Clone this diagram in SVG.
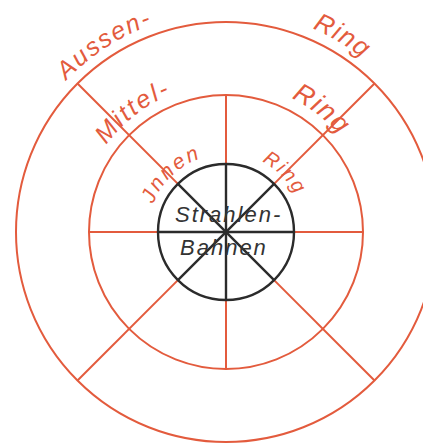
<svg xmlns="http://www.w3.org/2000/svg" width="423" height="446" viewBox="0 0 423 446">
  <style>
    .red { fill: none; stroke: #e35b3d; stroke-width: 2; }
    .blk { fill: none; stroke: #2b2b2b; stroke-width: 2.4; }
    .rt { fill: #e35b3d; font-family: "Liberation Sans", Arial, sans-serif; font-style: italic; }
    .bt { fill: #333333; font-family: "Liberation Sans", Arial, sans-serif; font-style: italic; font-size: 22px; letter-spacing: 2px; }
  </style>
  <defs>
    <path id="pAussen" d="M 66.4,80.6 A 220 220 0 0 1 206.8,12.8"/>
    <path id="pRingO" d="M 312.3,28.6 A 221 221 0 0 1 417.4,121.5"/>
    <path id="pMittel" d="M 106.3,145.0 A 148 148 0 0 1 200.3,86.2"/>
    <path id="pRingM" d="M 291.3,98.1 A 149 149 0 0 1 361.0,169.0"/>
    <path id="pJnnen" d="M 153.2,204.0 A 78 78 0 0 1 219.2,154.3"/>
    <path id="pRingI" d="M 261.9,161.6 A 79 79 0 0 1 303.8,218.3"/>
  </defs>

  <g id="connectors">
    <line class="red" x1="226" y1="164" x2="226" y2="95"/>
    <line class="red" x1="226" y1="300" x2="226" y2="369"/>
    <line class="red" x1="158" y1="232" x2="89" y2="232"/>
    <line class="red" x1="294" y1="232" x2="363" y2="232"/>
    <line class="red" x1="177.9" y1="183.9" x2="77.5" y2="83.5"/>
    <line class="red" x1="274.1" y1="183.9" x2="374.5" y2="83.5"/>
    <line class="red" x1="177.9" y1="280.1" x2="77.5" y2="380.5"/>
    <line class="red" x1="274.1" y1="280.1" x2="374.5" y2="380.5"/>
    <line class="blk" x1="226" y1="164" x2="226" y2="300"/>
    <line class="blk" x1="158" y1="232" x2="294" y2="232"/>
    <line class="blk" x1="177.9" y1="183.9" x2="274.1" y2="280.1"/>
    <line class="blk" x1="274.1" y1="183.9" x2="177.9" y2="280.1"/>
  </g>

  <g id="aussen-ring">
    <circle class="red" cx="226" cy="232" r="210"/>
    <text class="rt" font-size="25" letter-spacing="1.8"><textPath href="#pAussen">Aussen-</textPath></text>
    <text class="rt" font-size="26" letter-spacing="1.5"><textPath href="#pRingO">Ring</textPath></text>
  </g>

  <g id="mittel-ring">
    <circle class="red" cx="226" cy="232" r="137"/>
    <text class="rt" font-size="25" letter-spacing="2.3"><textPath href="#pMittel">Mittel-</textPath></text>
    <text class="rt" font-size="27" letter-spacing="1.5"><textPath href="#pRingM">Ring</textPath></text>
  </g>

  <g id="innen-ring">
    <text class="rt" font-size="21" letter-spacing="2.5"><textPath href="#pJnnen">Jnnen</textPath></text>
    <text class="rt" font-size="20" letter-spacing="2"><textPath href="#pRingI">Ring</textPath></text>
  </g>

  <g id="strahlen-bahnen">
    <circle class="blk" cx="226" cy="232" r="68"/>
    <text class="bt" x="175" y="222">Strahlen-</text>
    <text class="bt" x="180" y="255">Bahnen</text>
  </g>
</svg>
